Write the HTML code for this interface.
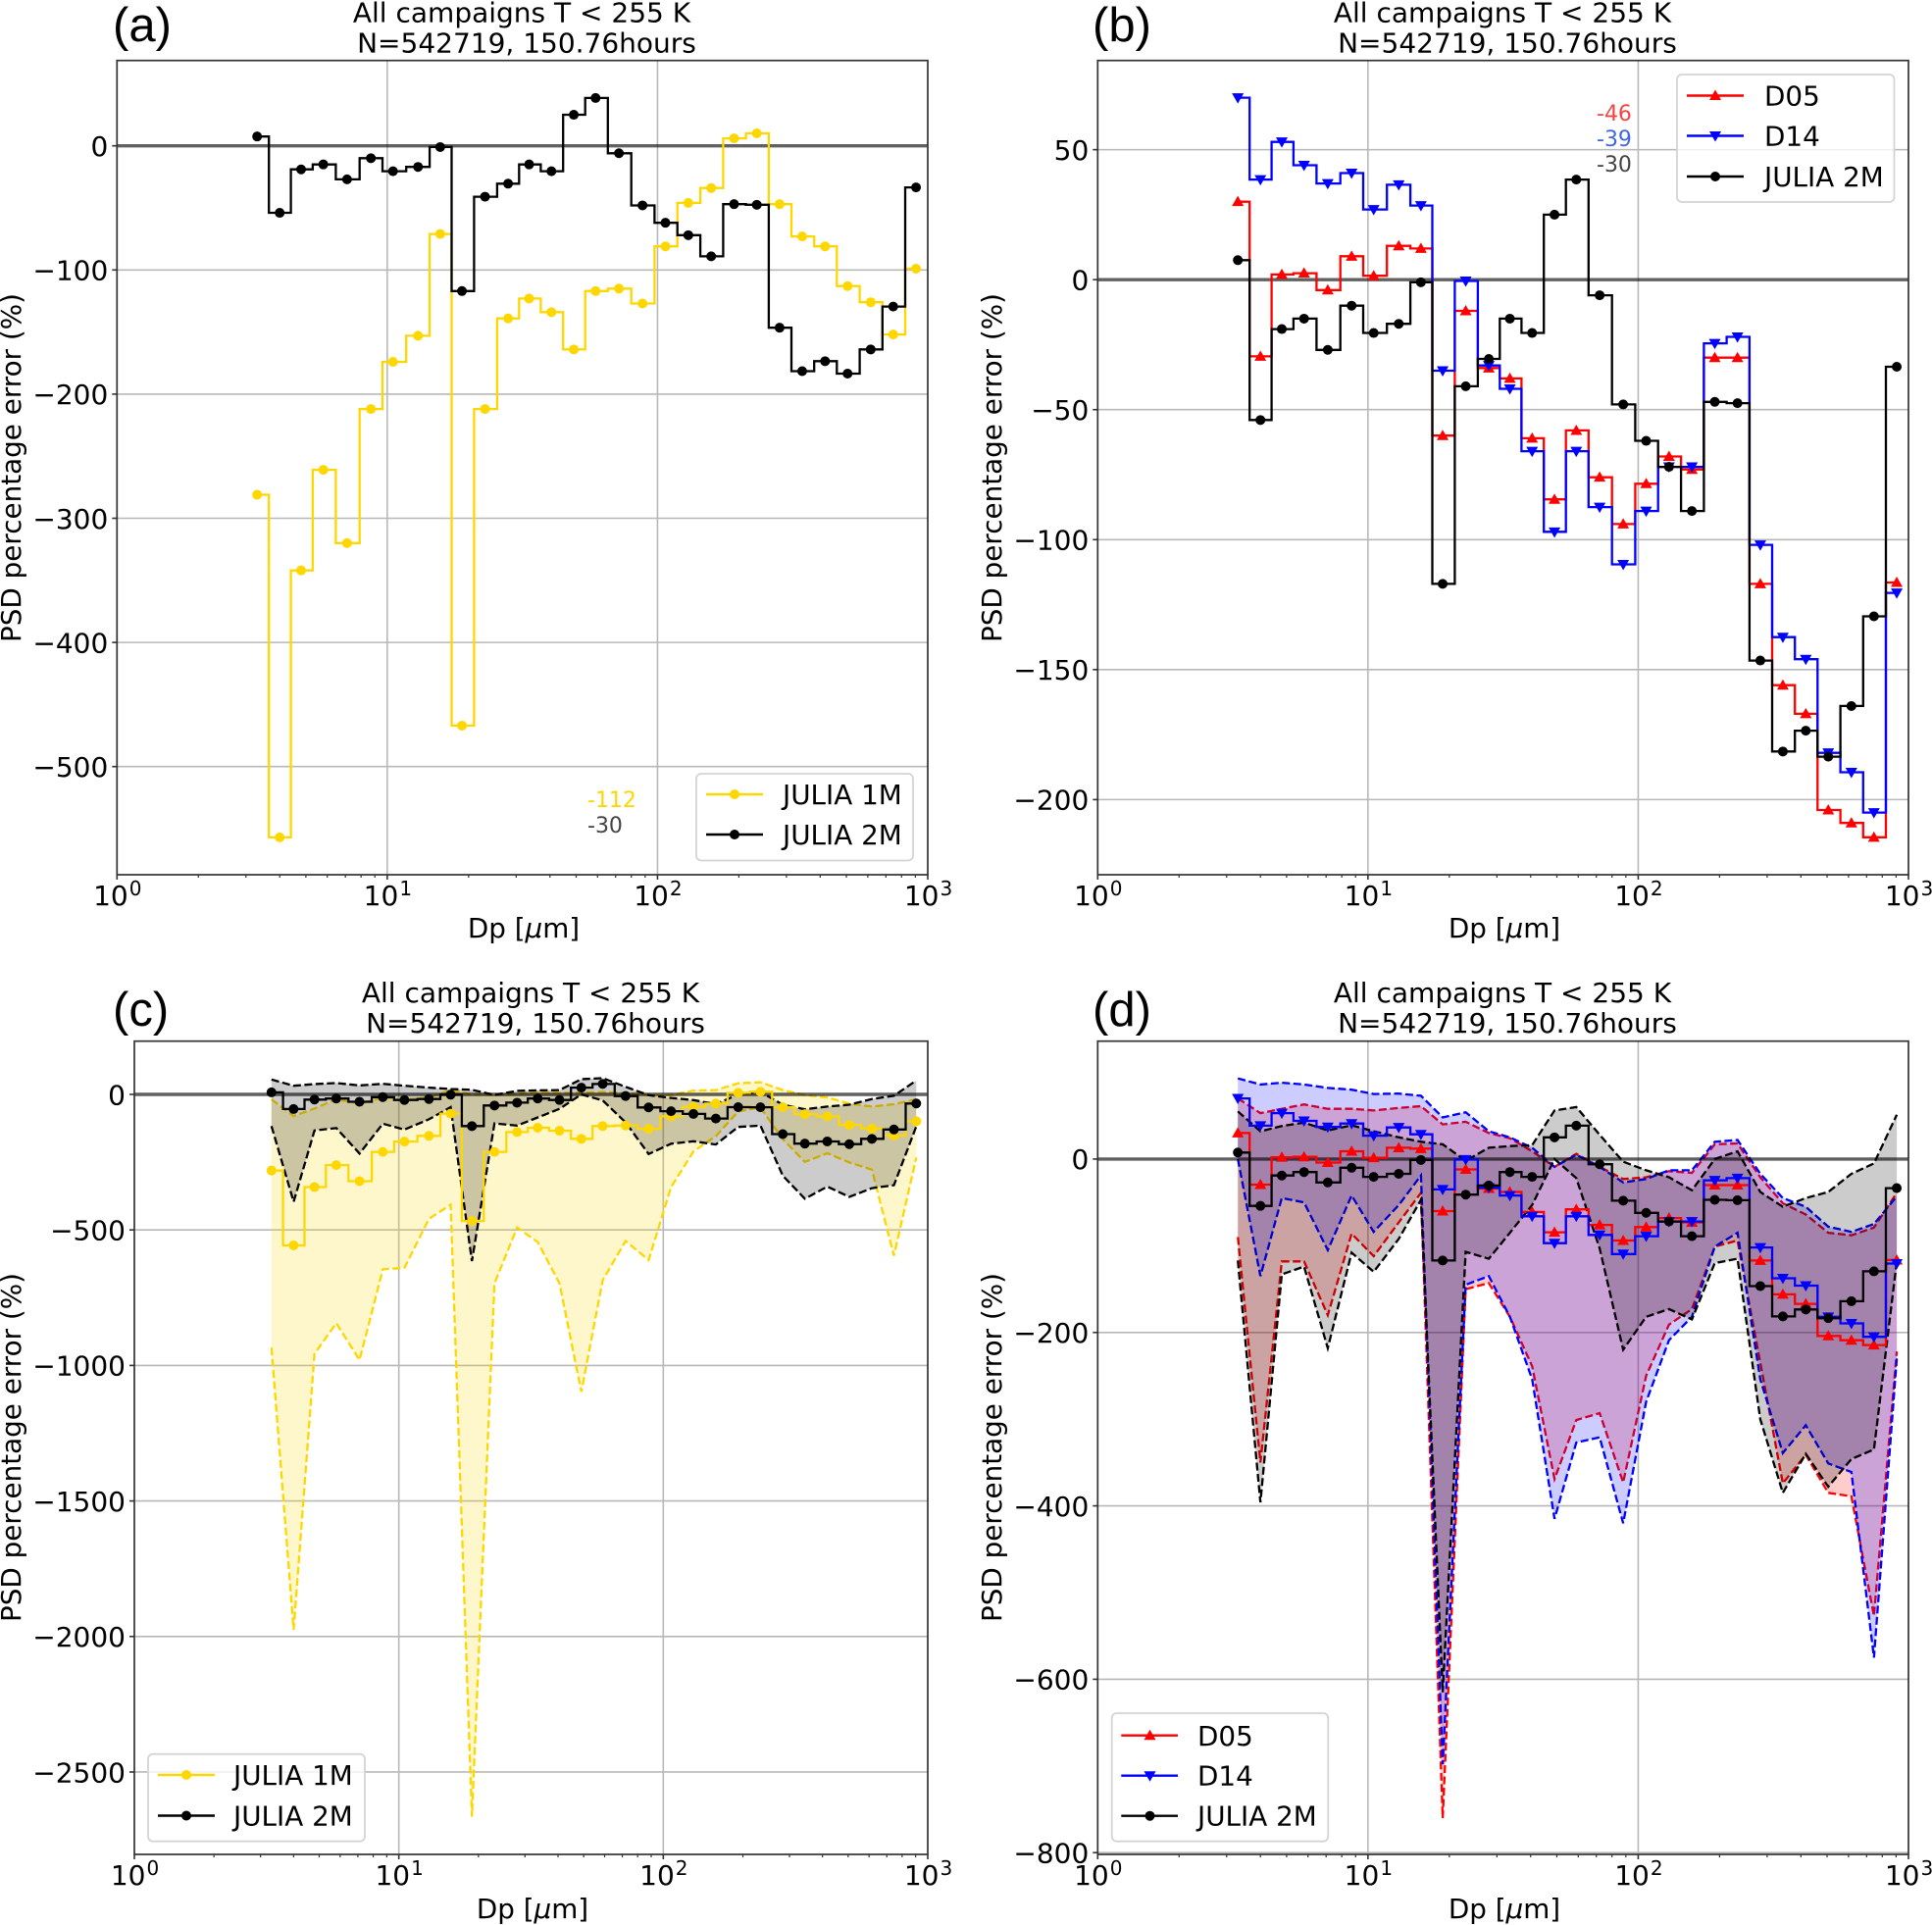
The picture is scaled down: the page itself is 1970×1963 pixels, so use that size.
<!DOCTYPE html>
<html lang="en">
<head>
<meta charset="utf-8">
<title>PSD percentage error panels</title>
<style>
html,body{margin:0;padding:0;background:#fff;}
body{width:1970px;height:1963px;overflow:hidden;}
svg{display:block;}
text{font-family:"DejaVu Sans","Liberation Sans",sans-serif;fill:#000;}
.tick{font-size:28px;}
.sup{font-size:20px;}
.ttl{font-size:28px;text-anchor:middle;}
.axl{font-size:27.8px;text-anchor:middle;}
.pl{font-size:49px;font-family:"Liberation Sans",sans-serif;}
.lg{font-size:27.8px;}
.sm{font-size:22px;}
.lb{fill:#fff;fill-opacity:.8;stroke:#d4d4d4;stroke-width:1.8;}
</style>
</head>
<body>
<svg id="fig" xmlns="http://www.w3.org/2000/svg" width="1970" height="1963" viewBox="0 0 1970 1963">
  <rect x="0" y="0" width="1970" height="1963" fill="#fff"/>
  <g id="plots"></g>

  <g>
    <text class="pl" x="115" y="42">(a)</text>
    <text class="ttl" x="532" y="22.5">All campaigns T &lt; 255 K</text>
    <text class="ttl" x="537" y="53.5">N=542719, 150.76hours</text>
    <text class="axl" x="534" y="956">Dp [<tspan font-style="italic">μ</tspan>m]</text>
    <text class="axl" transform="translate(21,477) rotate(-90)">PSD percentage error (%)</text>
    <text class="sm" x="599" y="823" style="fill:#ffd700">-112</text>
    <text class="sm" x="599" y="849" style="fill:#444">-30</text>
    <g>
      <rect class="lb" x="710" y="789" width="221" height="88.5" rx="5"/>
      <line x1="720" y1="810" x2="778" y2="810" stroke="#ffd700" stroke-width="2.4"/>
      <circle cx="749" cy="810" r="5" fill="#ffd700"/>
      <text class="lg" x="798" y="820">JULIA 1M</text>
      <line x1="720" y1="851" x2="778" y2="851" stroke="#000" stroke-width="2.4"/>
      <circle cx="749" cy="851" r="5" fill="#000"/>
      <text class="lg" x="798" y="861">JULIA 2M</text>
    </g>
  </g>

  <g>
    <text class="pl" x="1114" y="42">(b)</text>
    <text class="ttl" x="1532" y="22.5">All campaigns T &lt; 255 K</text>
    <text class="ttl" x="1537" y="53.5">N=542719, 150.76hours</text>
    <text class="axl" x="1534" y="956">Dp [<tspan font-style="italic">μ</tspan>m]</text>
    <text class="axl" transform="translate(1021,477) rotate(-90)">PSD percentage error (%)</text>
    <text class="sm" x="1628" y="123" style="fill:#f44444">-46</text>
    <text class="sm" x="1628" y="149" style="fill:#4466e0">-39</text>
    <text class="sm" x="1628" y="175" style="fill:#444">-30</text>
    <g>
      <rect class="lb" x="1710" y="76" width="221.5" height="130" rx="5"/>
      <line x1="1720" y1="97.5" x2="1778" y2="97.5" stroke="#f00" stroke-width="2.4"/>
      <path d="M1749 91.5l6 10.5h-12z" fill="#f00"/>
      <text class="lg" x="1799" y="107.5">D05</text>
      <line x1="1720" y1="138.5" x2="1778" y2="138.5" stroke="#00f" stroke-width="2.4"/>
      <path d="M1749 144.5l6 -10.5h-12z" fill="#00f"/>
      <text class="lg" x="1799" y="148.5">D14</text>
      <line x1="1720" y1="180" x2="1778" y2="180" stroke="#000" stroke-width="2.4"/>
      <circle cx="1749" cy="180" r="5" fill="#000"/>
      <text class="lg" x="1799" y="190">JULIA 2M</text>
    </g>
  </g>

  <g>
    <text class="pl" x="115" y="1046">(c)</text>
    <text class="ttl" x="541" y="1022">All campaigns T &lt; 255 K</text>
    <text class="ttl" x="546" y="1053">N=542719, 150.76hours</text>
    <text class="axl" x="543" y="1956">Dp [<tspan font-style="italic">μ</tspan>m]</text>
    <text class="axl" transform="translate(21,1476) rotate(-90)">PSD percentage error (%)</text>
    <g>
      <rect class="lb" x="151" y="1788.7" width="221" height="89" rx="5"/>
      <line x1="161" y1="1810" x2="219" y2="1810" stroke="#ffd700" stroke-width="2.4"/>
      <circle cx="190" cy="1810" r="5" fill="#ffd700"/>
      <text class="lg" x="238" y="1820">JULIA 1M</text>
      <line x1="161" y1="1851.5" x2="219" y2="1851.5" stroke="#000" stroke-width="2.4"/>
      <circle cx="190" cy="1851.5" r="5" fill="#000"/>
      <text class="lg" x="238" y="1861.5">JULIA 2M</text>
    </g>
  </g>

  <g>
    <text class="pl" x="1114" y="1046">(d)</text>
    <text class="ttl" x="1532" y="1022">All campaigns T &lt; 255 K</text>
    <text class="ttl" x="1537" y="1053">N=542719, 150.76hours</text>
    <text class="axl" x="1534" y="1956">Dp [<tspan font-style="italic">μ</tspan>m]</text>
    <text class="axl" transform="translate(1021,1476) rotate(-90)">PSD percentage error (%)</text>
    <g>
      <rect class="lb" x="1133.7" y="1747" width="220.6" height="130.7" rx="5"/>
      <line x1="1143.3" y1="1769.7" x2="1201" y2="1769.7" stroke="#f00" stroke-width="2.4"/>
      <path d="M1172.5 1763.7l6 10.5h-12z" fill="#f00"/>
      <text class="lg" x="1221" y="1780">D05</text>
      <line x1="1143.3" y1="1810.7" x2="1201" y2="1810.7" stroke="#00f" stroke-width="2.4"/>
      <path d="M1172.5 1816.7l6 -10.5h-12z" fill="#00f"/>
      <text class="lg" x="1221" y="1820.5">D14</text>
      <line x1="1143.3" y1="1851.7" x2="1201" y2="1851.7" stroke="#000" stroke-width="2.4"/>
      <circle cx="1172.5" cy="1851.7" r="5" fill="#000"/>
      <text class="lg" x="1221" y="1861.5">JULIA 2M</text>
    </g>
  </g>
</svg>

<script>
// ---- Data ----
const diameters = [3.3,4,4.8,5.8,7.1,8.7,10.5,13,15.7,18.9,23,28,33.5,40.5,49,59,72,88,107,130,158,192,233,283,343,417,505,615,745,905];

const julia1m = [-281,-557,-342,-261,-320,-212,-174,-153,-71,-467,-212,-139,-123,-134,-164,-117,-115,-127,-81,-46,-34,6,10,-47,-73,-81,-113,-126,-152,-99];
const julia2m = [7.5,-54,-19,-15,-27,-10,-20.5,-17,-1,-117,-41,-30.5,-15,-20.5,25,38.5,-6,-48,-62,-72,-89,-47,-47.5,-146.5,-181.5,-173.5,-183.5,-164,-129.5,-33.5];
const d05 = [30,-29.5,2,2.5,-4,9,1.5,13,12,-60,-12,-34,-38,-61,-84.5,-58,-76,-94,-78.5,-68,-73,-30,-30,-117,-156,-167,-204,-209,-214.5,-116.5];
const d14 = [70,38.5,53,44,37,41,27,36.5,28.5,-35,-0.5,-33,-42,-66,-97,-66,-87.5,-109.5,-89,-72,-72,-24.5,-22,-102,-137.5,-146,-182,-189.5,-205,-120.5];

const julia1mUpper = [-18,-80,-52,-18,-34,-11,-18,-11,15,0,-2,2,9,5,7,9,5,-2,-2,14,16,41,45,16,-2,-11,-34,-45,-36,-18];
const julia1mLower = [-934,-1975,-957,-844,-980,-645,-640,-459,-407,-2665,-697,-491,-545,-697,-1097,-686,-541,-611,-342,-210,-154,-63,-48,-165,-249,-217,-251,-278,-595,-233];
const julia2mUpper = [55,32,38,42,33,39,32,25,20,17,-2,13,15,16,56,60,28,-3,-13,-21,-36,0,9,-38,-55,-45,-38,-17,-5,51];
const julia2mLower = [-117,-396,-133,-124,-218,-108,-130,-92,-47,-615,-107,-115,-85,-53,0,-22,-103,-220,-182,-173,-185,-120,-115,-300,-385,-340,-378,-346,-335,-118];
const d05Upper = [70,53,58,63,58,58,56,59,61,40,43,30,24,9,-9,6,-9,-23,-21,-14,-16,17,18,-21,-51,-64,-85,-88,-79,-39];
const d05Lower = [-90,-350,-118,-118,-180,-86,-112,-73,-39,-760,-150,-143,-182,-239,-369,-301,-293,-373,-250,-191,-173,-101,-94,-235,-374,-341,-385,-389,-527,-222];
const d14Upper = [93,86,88,86,82,80,75,75.5,73,48,54,32,25,13,-9,5,-9,-27,-23,-13,-13,20,22,-17,-45,-55,-78,-84,-75,-43];
const d14Lower = [0,-135,-45,-50,-105,-42,-84,-53,-19,-698,-145,-135,-182,-254,-415,-327,-321,-420,-280,-209,-182,-101,-85,-254,-339,-307,-351,-361,-575,-230];

const xTickExponents = [0,1,2,3];
const xMinorMultipliers = [2,3,4,5,6,7,8,9];
const yTicksA = [0,-100,-200,-300,-400,-500];
const yTicksB = [50,0,-50,-100,-150,-200];
const yTicksC = [0,-500,-1000,-1500,-2000,-2500];
const yTicksD = [0,-200,-400,-600,-800];

const GOLD = '#ffd700', RED = '#ff0000', BLUE = '#0000ff', BLACK = '#000000';
const NS = 'http://www.w3.org/2000/svg';

const panels = [
  {id:'a', box:[119.3,946,61.7,892], ylim:[-587.1,68.7], yticks:yTicksA,
   bands:[],
   series:[{n:'julia-1m',v:julia1m,c:GOLD,m:'o'},{n:'julia-2m',v:julia2m,c:BLACK,m:'o'}]},
  {id:'b', box:[1119.3,1946,61.7,892], ylim:[-228.9,84.3], yticks:yTicksB,
   bands:[],
   series:[{n:'d05',v:d05,c:RED,m:'^'},{n:'d14',v:d14,c:BLUE,m:'v'},{n:'julia-2m',v:julia2m,c:BLACK,m:'o'}]},
  {id:'c', box:[137,946,1061.7,1891], ylim:[-2804,196.5], yticks:yTicksC,
   bands:[{n:'julia-1m',lo:julia1mLower,hi:julia1mUpper,c:GOLD},{n:'julia-2m',lo:julia2mLower,hi:julia2mUpper,c:BLACK}],
   series:[{n:'julia-1m',v:julia1m,c:GOLD,m:'o'},{n:'julia-2m',v:julia2m,c:BLACK,m:'o'}]},
  {id:'d', box:[1119.3,1946,1061.7,1891], ylim:[-802,136], yticks:yTicksD,
   bands:[{n:'d05',lo:d05Lower,hi:d05Upper,c:RED},{n:'d14',lo:d14Lower,hi:d14Upper,c:BLUE},{n:'julia-2m',lo:julia2mLower,hi:julia2mUpper,c:BLACK}],
   series:[{n:'d05',v:d05,c:RED,m:'^'},{n:'d14',v:d14,c:BLUE,m:'v'},{n:'julia-2m',v:julia2m,c:BLACK,m:'o'}]}
];

function make(tag, attrs, parent){
  const el = document.createElementNS(NS, tag);
  for (const k in attrs) el.setAttribute(k, attrs[k]);
  parent.appendChild(el);
  return el;
}

function drawPanel(p){
  const L = p.box[0], R = p.box[1], T = p.box[2], B = p.box[3];
  const sx = v => L + Math.log10(v) / 3 * (R - L);
  const sy = v => T + (p.ylim[1] - v) / (p.ylim[1] - p.ylim[0]) * (B - T);
  const root = document.getElementById('plots');

  const g = make('g', {}, root);
  
  

  const clip = make('clipPath', {id:'clip-' + p.id}, g);
  make('rect', {x:L, y:T, width:R - L, height:B - T}, clip);

  // Grid
  const grid = make('g', {stroke:'#b8b8b8', 'stroke-width':1.6}, g);
  
  
  xTickExponents.slice(1, 3).forEach(e => {
    const line = make('line', {x1:sx(Math.pow(10, e)), x2:sx(Math.pow(10, e)), y1:T, y2:B}, grid);
    
    
  });
  p.yticks.forEach(t => {
    if (t === 0) return;
    const line = make('line', {x1:L, x2:R, y1:sy(t), y2:sy(t)}, grid);
    
    
  });

  const plot = make('g', {'clip-path':'url(#clip-' + p.id + ')'}, g);
  
  

  // Shaded uncertainty bands
  p.bands.forEach(b => {
    const up = diameters.map((d, i) => sx(d).toFixed(1) + ' ' + sy(b.hi[i]).toFixed(1));
    const lo = diameters.map((d, i) => sx(d).toFixed(1) + ' ' + sy(b.lo[i]).toFixed(1));
    const fill = make('path', {d:'M' + up.join('L') + 'L' + lo.slice().reverse().join('L') + 'Z', fill:b.c, 'fill-opacity':0.2, stroke:'none'}, plot);
    
    
    [[up, 'upper'], [lo, 'lower']].forEach(pair => {
      const dash = make('path', {d:'M' + pair[0].join('L'), fill:'none', stroke:b.c, 'stroke-width':2.3, 'stroke-dasharray':'8 3.5'}, plot);
      
      
    });
  });

  // Zero reference line
  const zero = make('line', {x1:L, x2:R, y1:sy(0), y2:sy(0), stroke:'#000', 'stroke-opacity':0.62, 'stroke-width':3.4}, plot);
  
  

  // Step lines and markers
  p.series.forEach(s => {
    let d = 'M' + sx(diameters[0]).toFixed(1) + ' ' + sy(s.v[0]).toFixed(1);
    for (let i = 1; i < diameters.length; i++) {
      const mid = sx((diameters[i - 1] + diameters[i]) / 2).toFixed(1);
      d += 'H' + mid + 'V' + sy(s.v[i]).toFixed(1);
    }
    d += 'H' + sx(diameters[diameters.length - 1]).toFixed(1);
    const line = make('path', {d:d, fill:'none', stroke:s.c, 'stroke-width':2.3, 'stroke-linejoin':'miter'}, plot);
    
    
    s.v.forEach((v, i) => {
      const x = sx(diameters[i]), y = sy(v);
      let mk;
      if (s.m === 'o') mk = make('circle', {cx:x, cy:y, r:5, fill:s.c}, plot);
      else if (s.m === '^') mk = make('path', {d:'M' + x + ' ' + (y - 6) + 'l6 10.5h-12z', fill:s.c}, plot);
      else mk = make('path', {d:'M' + x + ' ' + (y + 6) + 'l6 -10.5h-12z', fill:s.c}, plot);
      
      
    });
  });

  // Axes frame
  const frame = make('rect', {x:L, y:T, width:R - L, height:B - T, fill:'none', stroke:'#333', 'stroke-width':1.7}, g);
  
  

  // X ticks
  const xAxis = make('g', {}, g);
  
  
  xTickExponents.forEach(e => {
    const x = sx(Math.pow(10, e));
    make('line', {x1:x, x2:x, y1:B, y2:B + 5, stroke:'#333', 'stroke-width':1.6}, xAxis);
    if (e < 3) xMinorMultipliers.forEach(m => {
      const xm = sx(m * Math.pow(10, e));
      make('line', {x1:xm, x2:xm, y1:B, y2:B + 3, stroke:'#333', 'stroke-width':1.2}, xAxis);
    });
    const lbl = make('text', {class:'tick', x:x + 0.5, y:B + 31, 'text-anchor':'middle'}, xAxis);
    
    
    lbl.appendChild(document.createTextNode('10'));
    const sup = make('tspan', {class:'sup', dy:-10, dx:1}, lbl);
    sup.textContent = String(e);
  });

  // Y ticks
  const yAxis = make('g', {}, g);
  
  
  p.yticks.forEach(t => {
    const y = sy(t);
    make('line', {x1:L - 5, x2:L, y1:y, y2:y, stroke:'#333', 'stroke-width':1.6}, yAxis);
    const lbl = make('text', {class:'tick', x:L - 9, y:y + 10.3, 'text-anchor':'end'}, yAxis);
    
    
    lbl.textContent = String(t).replace('-', '\u2212');
  });
}

panels.forEach(drawPanel);
</script>
</body>
</html>
